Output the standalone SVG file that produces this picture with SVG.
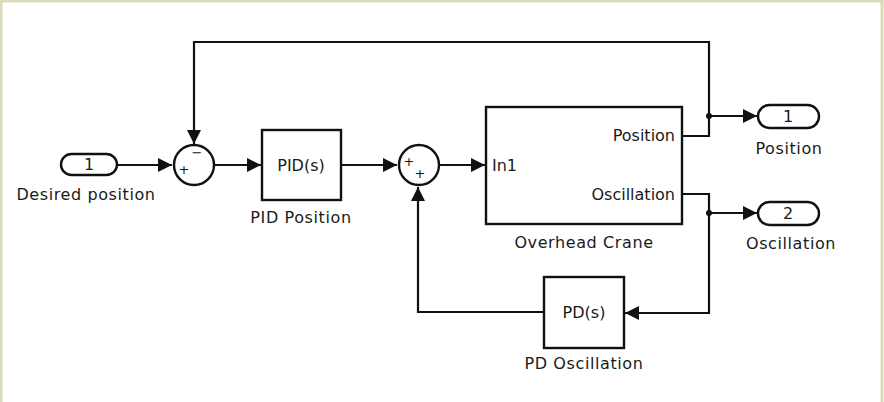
<svg xmlns="http://www.w3.org/2000/svg" width="884" height="402" viewBox="0 0 884 402">
<style>
.blk{fill:#fff;stroke:#111;stroke-width:2.4}
.ln{fill:none;stroke:#111;stroke-width:2.2}
.t{font-family:"DejaVu Sans","Liberation Sans",sans-serif;font-size:16px;fill:#1a1a1a}
.l{font-family:"DejaVu Sans","Liberation Sans",sans-serif;font-size:16px;fill:#1a1a1a;letter-spacing:0.6px}
.s{font-family:"DejaVu Sans","Liberation Sans",sans-serif;font-size:13px;fill:#111}
</style>
<defs>
<marker id="a" viewBox="0 0 10 10" refX="10" refY="5" markerWidth="14" markerHeight="14" markerUnits="userSpaceOnUse" orient="auto"><path d="M0,0 L10,5 L0,10 z" fill="#111"/></marker>
</defs>
<rect x="0" y="0" width="884" height="402" fill="#fff"/>
<path d="M1,402 V1 H882 V402" fill="none" stroke="#dcd9b8" stroke-width="3"/>
<g id="connectors">
<path class="ln" d="M117,165 H172" marker-end="url(#a)"/>
<path class="ln" d="M709,116 V42 H194 V144" marker-end="url(#a)"/>
<path class="ln" d="M214,165 H261" marker-end="url(#a)"/>
<path class="ln" d="M341,165 H397" marker-end="url(#a)"/>
<path class="ln" d="M440,165 H485" marker-end="url(#a)"/>
<path class="ln" d="M682,136 H709 V116 H757" marker-end="url(#a)"/>
<path class="ln" d="M682,194 H709 V213 H757" marker-end="url(#a)"/>
<path class="ln" d="M709,213 V313 H625" marker-end="url(#a)"/>
<path class="ln" d="M544,312 H418 V187" marker-end="url(#a)"/>
<circle cx="709" cy="116" r="3" fill="#111"/>
<circle cx="709" cy="213" r="3" fill="#111"/>
</g>
<g id="in1">
<rect class="blk" x="61" y="154" width="56" height="21" rx="10.5"/>
<text class="t" x="89" y="170" text-anchor="middle">1</text>
<text class="l" x="86" y="200" text-anchor="middle">Desired position</text>
</g>
<g id="sum1">
<circle class="blk" cx="194" cy="165" r="20"/>
<text class="s" x="184" y="174" text-anchor="middle">+</text>
<text class="s" x="197" y="157" text-anchor="middle">−</text>
</g>
<g id="pid">
<rect class="blk" x="262" y="130" width="79" height="70"/>
<text class="t" x="301" y="171" text-anchor="middle">PID(s)</text>
<text class="l" x="301" y="223" text-anchor="middle">PID Position</text>
</g>
<g id="sum2">
<circle class="blk" cx="419" cy="165" r="20"/>
<text class="s" x="409" y="166" text-anchor="middle">+</text>
<text class="s" x="420" y="178" text-anchor="middle">+</text>
</g>
<g id="crane">
<rect class="blk" x="486" y="107" width="196" height="117"/>
<text class="t" x="492" y="171">In1</text>
<text class="t" x="675" y="141" text-anchor="end">Position</text>
<text class="t" x="675" y="200" text-anchor="end">Oscillation</text>
<text class="l" x="584" y="248" text-anchor="middle">Overhead Crane</text>
</g>
<g id="out1">
<rect class="blk" x="758" y="105" width="61" height="23" rx="11.5"/>
<text class="t" x="788" y="122" text-anchor="middle">1</text>
<text class="l" x="789" y="154" text-anchor="middle">Position</text>
</g>
<g id="out2">
<rect class="blk" x="758" y="202" width="61" height="23" rx="11.5"/>
<text class="t" x="788" y="219" text-anchor="middle">2</text>
<text class="l" x="791" y="249" text-anchor="middle">Oscillation</text>
</g>
<g id="pd">
<rect class="blk" x="544" y="277" width="80" height="71"/>
<text class="t" x="584" y="318" text-anchor="middle">PD(s)</text>
<text class="l" x="584" y="369" text-anchor="middle">PD Oscillation</text>
</g>
</svg>
